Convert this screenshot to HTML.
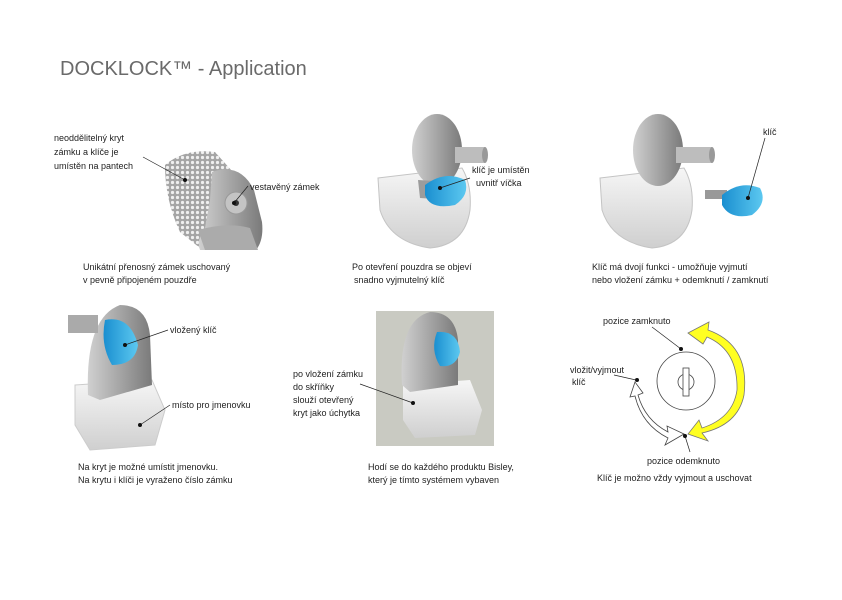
<!DOCTYPE html>
<html><head><meta charset="utf-8"><style>
body{margin:0;background:#fff}
svg text{font-family:"Liberation Sans","DejaVu Sans",sans-serif;font-size:9px;fill:#222}
</style></head><body>
<svg width="842" height="595" viewBox="0 0 842 595" xmlns="http://www.w3.org/2000/svg">
<defs>
<pattern id="dots" width="5" height="5" patternUnits="userSpaceOnUse"><rect width="5" height="5" fill="#a5a5a5"/><circle cx="2.5" cy="2.5" r="1.6" fill="#f0f0f0"/></pattern>
<linearGradient id="g1" x1="0" x2="1"><stop offset="0" stop-color="#d0d0d0"/><stop offset="1" stop-color="#7a7a7a"/></linearGradient>
<linearGradient id="bl" x1="0" x2="1"><stop offset="0" stop-color="#1a8fd0"/><stop offset="1" stop-color="#5cc8f0"/></linearGradient>
<linearGradient id="wh" x1="0" y1="0" x2="0" y2="1"><stop offset="0" stop-color="#f6f6f6"/><stop offset="1" stop-color="#cfcfcf"/></linearGradient>
</defs>
<text x="60" y="75" style="font-size:20px;fill:#6a6a6a">DOCKLOCK™ - Application</text>

<!-- Image 1 -->
<path d="M165 165 Q185 148 215 152 L240 180 L248 245 L200 248 L180 232 Q165 200 165 165Z" fill="url(#dots)"/>
<path d="M212 172 Q240 162 254 190 L262 222 Q264 240 256 250 L200 250 Q196 240 205 228 L210 200Z" fill="url(#g1)"/>
<circle cx="236" cy="203" r="11" fill="#c4c4c4" stroke="#999"/><circle cx="236" cy="203" r="3" fill="#333"/>
<path d="M198 230 Q228 222 250 228 L258 250 L205 250Z" fill="#ababab"/>
<text x="54" y="141">neoddělitelný kryt</text><text x="54" y="155">zámku a klíče je</text><text x="54" y="169">umístěn na pantech</text>
<line x1="143" y1="157" x2="185" y2="180" stroke="#222" stroke-width="0.7"/><circle cx="185" cy="180" r="2" fill="#111"/>
<text x="250" y="190">vestavěný zámek</text>
<line x1="248" y1="186" x2="234" y2="203" stroke="#222" stroke-width="0.7"/><circle cx="234" cy="203" r="2" fill="#111"/>
<text x="83" y="270">Unikátní přenosný zámek uschovaný</text><text x="83" y="283">v pevně připojeném pouzdře</text>

<!-- Image 2 -->
<path d="M378 178 L462 168 Q472 185 470 210 Q465 245 430 248 Q390 242 380 210Z" fill="url(#wh)" stroke="#c4c4c4"/>
<ellipse cx="437" cy="150" rx="25" ry="36" fill="url(#g1)"/>
<rect x="455" y="147" width="30" height="16" fill="#bdbdbd"/><ellipse cx="485" cy="155" rx="3" ry="8" fill="#999"/>
<path d="M418 180 L452 182 L450 200 L420 198Z" fill="#9c9c9c"/>
<path d="M425 185 Q445 170 465 180 Q470 195 455 205 Q430 210 425 195Z" fill="url(#bl)"/>
<text x="472" y="173">klíč je umístěn</text><text x="476" y="186">uvnitř víčka</text>
<line x1="470" y1="178" x2="440" y2="188" stroke="#222" stroke-width="0.7"/><circle cx="440" cy="188" r="2" fill="#111"/>
<text x="352" y="270">Po otevření pouzdra se objeví</text><text x="354" y="283">snadno vyjmutelný klíč</text>

<!-- Image 3 -->
<path d="M600 178 L684 168 Q694 185 692 210 Q687 245 652 248 Q612 242 602 210Z" fill="url(#wh)" stroke="#c4c4c4"/>
<ellipse cx="658" cy="150" rx="25" ry="36" fill="url(#g1)"/>
<rect x="676" y="147" width="36" height="16" fill="#bdbdbd"/><ellipse cx="712" cy="155" rx="3" ry="8" fill="#999"/>
<rect x="705" y="190" width="22" height="9" fill="#999"/>
<path d="M722 195 Q740 180 760 188 Q768 203 752 215 Q730 220 722 205Z" fill="url(#bl)"/>
<text x="763" y="135">klíč</text>
<line x1="765" y1="138" x2="748" y2="198" stroke="#222" stroke-width="0.7"/><circle cx="748" cy="198" r="2" fill="#111"/>
<text x="592" y="270">Klíč má dvojí funkci - umožňuje vyjmutí</text><text x="592" y="283">nebo vložení zámku + odemknutí / zamknutí</text>

<!-- Image 4 -->
<path d="M75 385 L152 380 L165 410 L155 445 L90 450 L75 425Z" fill="url(#wh)" stroke="#ccc"/>
<path d="M88 395 Q85 318 120 305 Q147 305 150 335 L152 385 L100 400Z" fill="url(#g1)"/>
<rect x="68" y="315" width="30" height="18" fill="#aaa"/>
<path d="M105 320 Q130 315 138 345 Q135 365 112 365 Q100 345 105 320Z" fill="url(#bl)"/>
<text x="170" y="333">vložený klíč</text>
<line x1="168" y1="330" x2="125" y2="345" stroke="#222" stroke-width="0.7"/><circle cx="125" cy="345" r="2" fill="#111"/>
<text x="172" y="408">místo pro jmenovku</text>
<line x1="170" y1="405" x2="140" y2="425" stroke="#222" stroke-width="0.7"/><circle cx="140" cy="425" r="2" fill="#111"/>
<text x="78" y="470">Na kryt je možné umístit jmenovku.</text><text x="78" y="483">Na krytu i klíči je vyraženo číslo zámku</text>

<!-- Image 5 -->
<rect x="376" y="311" width="118" height="135" fill="#c9cac2"/>
<path d="M403 385 L470 380 L482 410 L475 435 L415 438 L403 420Z" fill="url(#wh)"/>
<path d="M402 385 Q398 320 430 312 Q455 312 458 340 L458 385 L410 392Z" fill="url(#g1)"/>
<path d="M437 332 Q458 330 460 352 Q456 368 440 366 Q430 350 437 332Z" fill="url(#bl)"/>
<text x="293" y="377">po vložení zámku</text><text x="293" y="390">do skříňky</text><text x="293" y="403">slouží otevřený</text><text x="293" y="416">kryt jako úchytka</text>
<line x1="360" y1="384" x2="413" y2="403" stroke="#222" stroke-width="0.7"/><circle cx="413" cy="403" r="2" fill="#111"/>
<text x="368" y="470">Hodí se do každého produktu Bisley,</text><text x="368" y="483">který je tímto systémem vybaven</text>

<!-- Image 6 -->
<circle cx="686" cy="381" r="29" fill="none" stroke="#444" stroke-width="0.8"/>
<circle cx="686" cy="382" r="8" fill="none" stroke="#444" stroke-width="0.8"/>
<rect x="683" y="368" width="6" height="28" fill="#fff" stroke="#444" stroke-width="0.8"/>
<path d="M688 333 L709 322 L708 330 Q750 345 744 395 Q738 425 702 433 L708 441 L688 434 L699 420 L702 428 Q733 418 737 390 Q738 350 707 337 L703 344Z" fill="#ffff22" stroke="#777" stroke-width="0.8"/>
<path d="M684 434 L667 426 L668 432 Q645 420 638 395 L643 393 L635 382 L630 397 L635 396 Q642 425 668 438 L665 445Z" fill="#fff" stroke="#444" stroke-width="0.8"/>
<text x="603" y="324">pozice zamknuto</text>
<line x1="652" y1="327" x2="681" y2="349" stroke="#222" stroke-width="0.7"/><circle cx="681" cy="349" r="2" fill="#111"/>
<text x="570" y="373">vložit/vyjmout</text><text x="572" y="385">klíč</text>
<line x1="614" y1="375" x2="636" y2="380" stroke="#222" stroke-width="0.7"/><circle cx="637" cy="380" r="2" fill="#111"/>
<line x1="685" y1="436" x2="690" y2="452" stroke="#222" stroke-width="0.7"/><circle cx="685" cy="436" r="2" fill="#111"/>
<text x="647" y="464">pozice odemknuto</text>
<text x="597" y="481">Klíč je možno vždy vyjmout a uschovat</text>
</svg>
</body></html>
